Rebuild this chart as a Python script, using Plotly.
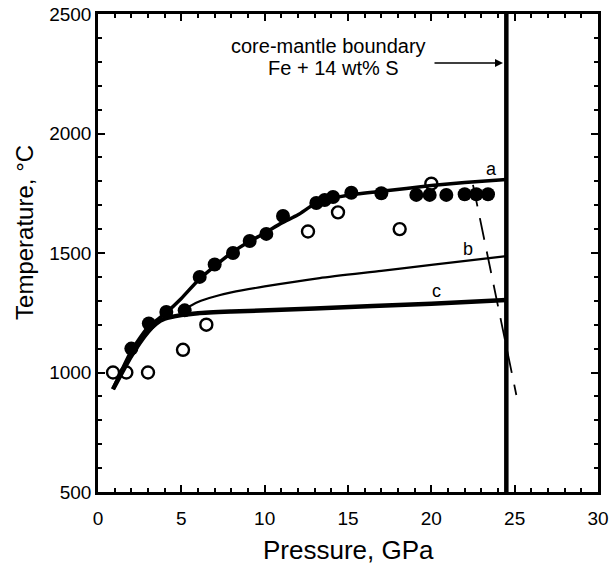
import plotly.graph_objects as go

# ---- data ----
filled_P = [2.0, 3.05, 4.1, 5.2, 6.1, 7.0, 8.1, 9.1, 10.1, 11.1, 13.1, 13.6, 14.1, 15.2, 17.0, 19.1, 19.9, 20.9, 22.0, 22.7, 23.4]
filled_T = [1100, 1205, 1253, 1260, 1400, 1452, 1500, 1550, 1580, 1655, 1709, 1722, 1734, 1752, 1750, 1743, 1743, 1743, 1746, 1746, 1746]

open_P = [0.9, 1.7, 3.0, 5.1, 6.5, 12.6, 14.4, 18.1, 20.0]
open_T = [1000, 1000, 1000, 1095, 1200, 1590, 1670, 1600, 1790]

curve_a_P = [0.9, 2, 3, 4, 5, 6, 7, 8, 9, 10, 11, 12, 13, 14, 15, 17, 20, 22, 24.5]
curve_a_T = [930, 1090, 1190, 1245, 1310, 1385, 1445, 1500, 1545, 1583, 1625, 1660, 1705, 1728, 1742, 1758, 1782, 1795, 1808]

curve_b_P = [5.0, 6, 7, 8, 10, 13.3, 17, 20, 24.5]
curve_b_T = [1258, 1295, 1318, 1335, 1360, 1395, 1425, 1450, 1487]

curve_c_P = [0.9, 2, 3, 3.5, 4, 5, 6, 8, 13, 20, 24.5]
curve_c_T = [930, 1070, 1170, 1205, 1225, 1240, 1248, 1255, 1268, 1288, 1303]

dashed_P = [22.5, 25.1]
dashed_T = [1785, 906]

cmb_P = 24.5
T_range = [500, 2500]
P_range = [0, 30]

FONT = "Liberation Sans, Arial, sans-serif"

fig = go.Figure()

fig.add_trace(go.Scatter(x=dashed_P, y=dashed_T, mode="lines",
                         line=dict(color="black", width=1.8, dash="22px,12px")))
fig.add_trace(go.Scatter(x=[cmb_P, cmb_P], y=T_range, mode="lines",
                         line=dict(color="black", width=4.5)))
fig.add_trace(go.Scatter(x=curve_c_P, y=curve_c_T, mode="lines",
                         line=dict(color="black", width=4.5, shape="spline", smoothing=0.6)))
fig.add_trace(go.Scatter(x=curve_b_P, y=curve_b_T, mode="lines",
                         line=dict(color="black", width=2.2, shape="spline", smoothing=0.6)))
fig.add_trace(go.Scatter(x=curve_a_P, y=curve_a_T, mode="lines",
                         line=dict(color="black", width=3.5, shape="spline", smoothing=0.6)))
fig.add_trace(go.Scatter(x=filled_P, y=filled_T, mode="markers",
                         marker=dict(symbol="circle", size=14, color="black")))
fig.add_trace(go.Scatter(x=open_P, y=open_T, mode="markers",
                         marker=dict(symbol="circle-open", size=12, color="black",
                                     line=dict(width=2.4, color="black"))))

axis_common = dict(
    showgrid=False, zeroline=False, showline=True, linecolor="black", linewidth=2.5,
    mirror="allticks", ticks="inside", ticklen=7, tickwidth=2, tickcolor="black",
    tickfont=dict(family=FONT, size=19, color="black"), automargin=False,
)

fig.update_xaxes(range=P_range, dtick=5, tick0=0, ticklabelstandoff=7,
                 minor=dict(dtick=1, ticks="inside", ticklen=4, tickwidth=2, tickcolor="black"),
                 **axis_common)
fig.update_yaxes(range=T_range, dtick=500, tick0=500,
                 minor=dict(dtick=100, ticks="inside", ticklen=4, tickwidth=2, tickcolor="black"),
                 **axis_common)

annotations = [
    dict(text="Pressure, GPa", x=0.5, y=-0.121, xref="paper", yref="paper",
         xanchor="center", yanchor="middle", showarrow=False,
         font=dict(family=FONT, size=26, color="black")),
    dict(text="Temperature, °C", x=-0.146, y=0.542, xref="paper", yref="paper",
         xanchor="center", yanchor="middle", textangle=-90, showarrow=False,
         font=dict(family=FONT, size=24, color="black")),
    dict(text="core-mantle boundary", x=13.8, y=2366, xref="x", yref="y",
         xanchor="center", yanchor="middle", showarrow=False,
         font=dict(family=FONT, size=20, color="black")),
    dict(text="Fe + 14 wt% S", x=14.1, y=2274, xref="x", yref="y",
         xanchor="center", yanchor="middle", showarrow=False,
         font=dict(family=FONT, size=20, color="black")),
    dict(text="", x=24.3, y=2295, ax=20.1, ay=2295, xref="x", yref="y",
         axref="x", ayref="y", showarrow=True, arrowhead=2, arrowsize=1,
         arrowwidth=1.6, arrowcolor="black"),
    dict(text="a", x=23.6, y=1850, xref="x", yref="y", showarrow=False,
         font=dict(family=FONT, size=18, color="black")),
    dict(text="b", x=22.2, y=1515, xref="x", yref="y", showarrow=False,
         font=dict(family=FONT, size=18, color="black")),
    dict(text="c", x=20.3, y=1342, xref="x", yref="y", showarrow=False,
         font=dict(family=FONT, size=18, color="black")),
]

fig.update_layout(
    width=610, height=564,
    margin=dict(l=98, r=12, t=14, b=72),
    paper_bgcolor="white", plot_bgcolor="white",
    showlegend=False,
    annotations=annotations,
    font=dict(family=FONT, color="black"),
)

fig.write_html(
    "out.html",
    config={"displayModeBar": False},
    post_script="document.body.style.margin='0';document.body.style.padding='0';"
                "document.documentElement.style.overflow='hidden';",
)
